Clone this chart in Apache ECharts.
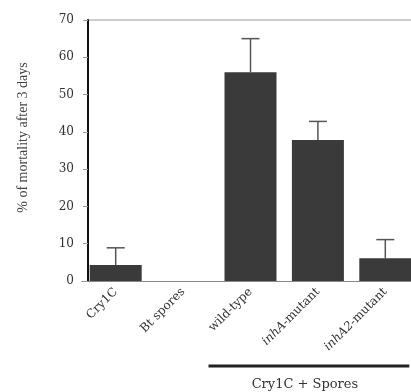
<!DOCTYPE html>
<html>
<head>
<meta charset="utf-8">
<script src="https://cdn.jsdelivr.net/npm/echarts@6/dist/echarts.min.js"></script>
<style>
  html, body { margin: 0; padding: 0; background: #fff; }
  #chart { width: 411px; height: 392px; }
</style>
</head>
<body>
<div id="chart"></div>
<script>
// Treatments and mortality after 3 days (%)
const categories = ['Cry1C', 'Bt spores', 'wild-type', 'inhA-mutant', 'inhA2-mutant'];
const mortality = [4.3, 0, 56, 37.8, 6.1];
const errorPlus = [4.6, 0, 9, 5, 5];
const yTicks = [0, 10, 20, 30, 40, 50, 60, 70];
const groupLabel = 'Cry1C + Spores';
const groupFrom = 'wild-type';
const groupTo = 'inhA2-mutant';

const serif = '"Liberation Serif", "DejaVu Serif", serif';
const wideSerif = '"DejaVu Serif", "Liberation Serif", serif';
const chart = echarts.init(document.getElementById('chart'), null, { renderer: 'canvas' });

function labelFormatter(v) {
  const m = v.match(/^(inhA2?)(-mutant)$/);
  if (m) return '{it|' + m[1] + '}{n|' + m[2] + '}';
  return '{n|' + v + '}';
}

const errorData = mortality.map((v, i) => [i, v, v + errorPlus[i]]);

chart.setOption({
  animation: false,
  grid: { left: 82, right: -8, top: 20, bottom: 111, outerBoundsMode: 'none', containLabel: false },
  xAxis: {
    type: 'category',
    data: categories,
    axisLine: { show: true, lineStyle: { color: '#888', width: 1 } },
    axisTick: { show: false },
    axisLabel: {
      interval: 0,
      rotate: 45,
      margin: 9,
      formatter: labelFormatter,
      rich: {
        n: { fontFamily: wideSerif, fontSize: 12, color: '#333' },
        it: { fontFamily: wideSerif, fontSize: 12, color: '#333', fontStyle: 'italic' }
      }
    }
  },
  yAxis: {
    type: 'value',
    min: yTicks[0],
    max: yTicks[yTicks.length - 1],
    interval: 10,
    offset: -6,
    name: '% of mortality after 3 days',
    nameLocation: 'middle',
    nameGap: 58,
    nameRotate: 90,
    nameTextStyle: { fontFamily: serif, fontSize: 14, color: '#444', padding: [0, 0, 0, 26] },
    axisLine: { show: true, lineStyle: { color: '#111', width: 2 } },
    axisTick: { show: true, inside: false, length: 5, lineStyle: { color: '#999' } },
    axisLabel: { fontFamily: wideSerif, fontSize: 12, color: '#333', margin: 14 },
    splitLine: { show: false }
  },
  series: [
    {
      type: 'bar',
      data: mortality,
      barWidth: 52,
      itemStyle: { color: '#3a3a3a', borderWidth: 0 }
    },
    {
      type: 'custom',
      data: errorData,
      z: 5,
      renderItem: function (params, api) {
        const x = api.value(0);
        const lo = api.value(1);
        const hi = api.value(2);
        if (hi <= lo) return null;
        const p0 = api.coord([x, lo]);
        const p1 = api.coord([x, hi]);
        const half = 9;
        const style = { stroke: '#555', lineWidth: 1.5 };
        return {
          type: 'group',
          children: [
            { type: 'line', shape: { x1: p0[0], y1: p0[1], x2: p1[0], y2: p1[1] }, style: style },
            { type: 'line', shape: { x1: p1[0] - half, y1: p1[1], x2: p1[0] + half, y2: p1[1] }, style: style }
          ]
        };
      }
    }
  ]
});

// Frame line along the top and the bracket under the three spore treatments
const frameY = chart.convertToPixel({ yAxisIndex: 0 }, yTicks[yTicks.length - 1]);
const gx1 = chart.convertToPixel({ xAxisIndex: 0 }, groupFrom) - 42;
const gx2 = chart.convertToPixel({ xAxisIndex: 0 }, groupTo) + 24;
const bracketY = 366;
chart.setOption({
  graphic: [
    { type: 'line', shape: { x1: 88, y1: frameY, x2: 411, y2: frameY }, style: { stroke: '#999', lineWidth: 1 } },
    { type: 'line', shape: { x1: gx1, y1: bracketY, x2: gx2, y2: bracketY }, style: { stroke: '#222', lineWidth: 3 } },
    {
      type: 'text',
      x: (gx1 + gx2) / 2 - 4, y: bracketY + 19,
      style: { text: groupLabel, font: '13px ' + wideSerif, fill: '#333', textAlign: 'center', textVerticalAlign: 'middle' }
    }
  ]
});
</script>
</body>
</html>
